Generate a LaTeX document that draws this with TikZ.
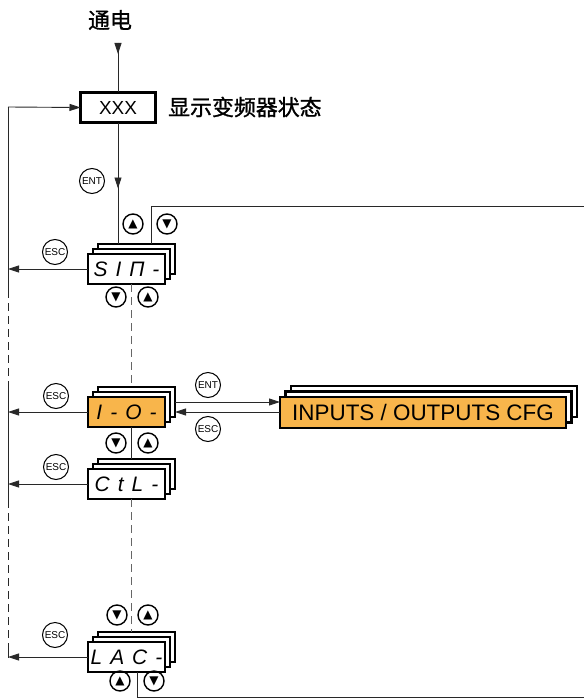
\documentclass[tikz,border=0pt]{standalone}
\usepackage{fontspec}
\setmainfont{Liberation Sans}
\newfontfamily\cjk{Noto Sans CJK SC}[FakeBold=1.2]
\newfontfamily\symf{DejaVu Sans}
\usetikzlibrary{arrows.meta,calc}
\definecolor{ioorange}{RGB}{248,181,75}
\definecolor{lineclr}{RGB}{40,40,40}
\newcommand{\sg}{\hspace{8bp}}
\begin{document}
\begin{tikzpicture}[x=1bp,y=-1bp,
  conn/.style={draw=lineclr, line width=0.9bp},
  arr/.style={conn, -{Triangle[length=11bp,width=7bp]}},
  dashline/.style={draw=black!60, line width=1.1bp, dash pattern=on 8bp off 5bp},
  ldash/.style={draw=lineclr, line width=0.9bp, dash pattern=on 8bp off 5bp},
  stackbox/.style={draw, line width=2.2bp, fill=white, minimum width=77bp, minimum height=30bp, inner sep=0, outer sep=0},
  segtxt/.style={font=\fontsize{21}{21}\selectfont\itshape},
  keycirc/.style={circle, draw, line width=1bp, minimum size=25bp, inner sep=0, font=\fontsize{10}{10}\selectfont},
  btn/.style={circle, draw, line width=1.4bp, minimum size=20bp, inner sep=0, font=\symf\fontsize{12}{12}\selectfont},
  cfgbox/.style={draw, line width=2.2bp, fill=white, minimum width=286bp, minimum height=31bp, inner sep=0, outer sep=0},
]
\useasboundingbox (0,0) rectangle (584,698);

% top
\node[font=\cjk\fontsize{22}{22}\selectfont] (pwrlbl) at (110,20) {通电};
\node[draw, line width=2.4bp, minimum width=75bp, minimum height=30bp, inner sep=0, outer sep=0, font=\fontsize{19}{19}\selectfont] (xxx) at (118,107.5) {XXX};
\node[anchor=west, font=\cjk\fontsize{22}{22}\selectfont, inner sep=0] (status) at (168,107) {显示变频器状态};

% stacks
\node[stackbox] (sinB) at (136.5,259) {};
\node[stackbox] (sinM) at (131.5,264) {};
\node[stackbox, segtxt] (sin) at (126.5,269) {S\sg I\sg Π\sg -};

\node[stackbox] (ioB) at (136.5,402) {};
\node[stackbox] (ioM) at (131.5,407) {};
\node[stackbox, segtxt, fill=ioorange] (io) at (126.5,412) {I\sg -\sg O\sg -};

\node[stackbox] (ctlB) at (136.5,474) {};
\node[stackbox] (ctlM) at (131.5,479) {};
\node[stackbox, segtxt] (ctl) at (126.5,484) {C\sg t\sg L\sg -};

\node[stackbox] (lacB) at (136.5,647) {};
\node[stackbox] (lacM) at (131.5,652) {};
\node[stackbox, segtxt] (lac) at (126.5,657) {L\sg A\sg C\sg -};

\node[cfgbox] (cfgB) at (434,401.5) {};
\node[cfgbox] (cfgM) at (428.5,407) {};
\node[cfgbox, fill=ioorange, font=\fontsize{22.5}{22.5}\selectfont] (cfg) at (423,412.5) {INPUTS / OUTPUTS CFG};

% key circles
\node[keycirc] (ent1) at (92,181) {ENT};
\node[keycirc] (esc1) at (55,252) {ESC};
\node[keycirc] (esc2) at (56,396) {ESC};
\node[keycirc] (ent2) at (208,385) {ENT};
\node[keycirc] (esc3) at (208,429) {ESC};
\node[keycirc] (esc4) at (56,467) {ESC};
\node[keycirc] (esc5) at (55,635) {ESC};

% up/down buttons
\node[btn] (b1u) at (133,224) {▲};
\node[btn] (b1d) at (167,224) {▼};
\node[btn] (b2d) at (116,297) {▼};
\node[btn] (b2u) at (148,297) {▲};
\node[btn] (b3d) at (116,443) {▼};
\node[btn] (b3u) at (148,443) {▲};
\node[btn] (b4d) at (117,615) {▼};
\node[btn] (b4u) at (148,615) {▲};
\node[btn] (b5u) at (120,681) {▲};
\node[btn] (b5d) at (154,681) {▼};

% coordinates
\coordinate (pwr) at (118,43);
\coordinate (L0) at (8,107);
\coordinate (L1) at (8,290);
\coordinate (L2) at (8,387);
\coordinate (L3) at (8,500);
\coordinate (L4) at (8,650);
\coordinate (L5) at (8,658);
\coordinate (trEnd) at (584,206);
\coordinate (brEnd) at (584,697);
\path (sinB.north) ++(14.5,0) coordinate (sinR);
\path (lac.south) ++(10.5,0) coordinate (lacR);

% power-on arrow
\draw[conn] (pwr) -- (pwr |- xxx.north);
\draw[arr] (pwr) -- ++(0,11);

% ENT arrow to SIM
\draw[conn] (xxx.south) -- (xxx.south |- sinB.north);
\draw[arr] ($(xxx.south)+(0,55)$) -- ++(0,11);

% top-right line
\draw[conn] (sinR) -- (sinR |- trEnd) -- (trEnd);

% left loop
\draw[arr] (L0) -- (xxx.west);
\draw[conn] (L0) -- (L1);
\draw[ldash] (L1) -- (L2);
\draw[conn] (L2) -- (L3);
\draw[ldash] (L3) -- (L4);
\draw[conn] (L4) -- (L5);

\draw[arr] (sin.west) -- (sin.west -| L0);
\draw[arr] (io.west) -- (io.west -| L0);
\draw[arr] (ctl.west) -- (ctl.west -| L0);
\draw[arr] (lac.west) -- (lac.west -| L0);

% centre line
\draw[dashline] (sin.south -| sinM.north) -- (ioB.north -| sinM.north);
\draw[conn] (io.south -| sinM.north) -- (ctlB.north -| sinM.north);
\draw[dashline] (ctl.south -| sinM.north) -- (lacB.north -| sinM.north);

% bottom line
\draw[conn] (lacR) -- (lacR |- brEnd) -- (brEnd);

% I-O <-> CFG
\draw[arr] (ioB.east) -- (ioB.east -| cfg.west);
\draw[arr] (cfg.west |- io.east) -- (ioB.east |- io.east);
\end{tikzpicture}
\end{document}
